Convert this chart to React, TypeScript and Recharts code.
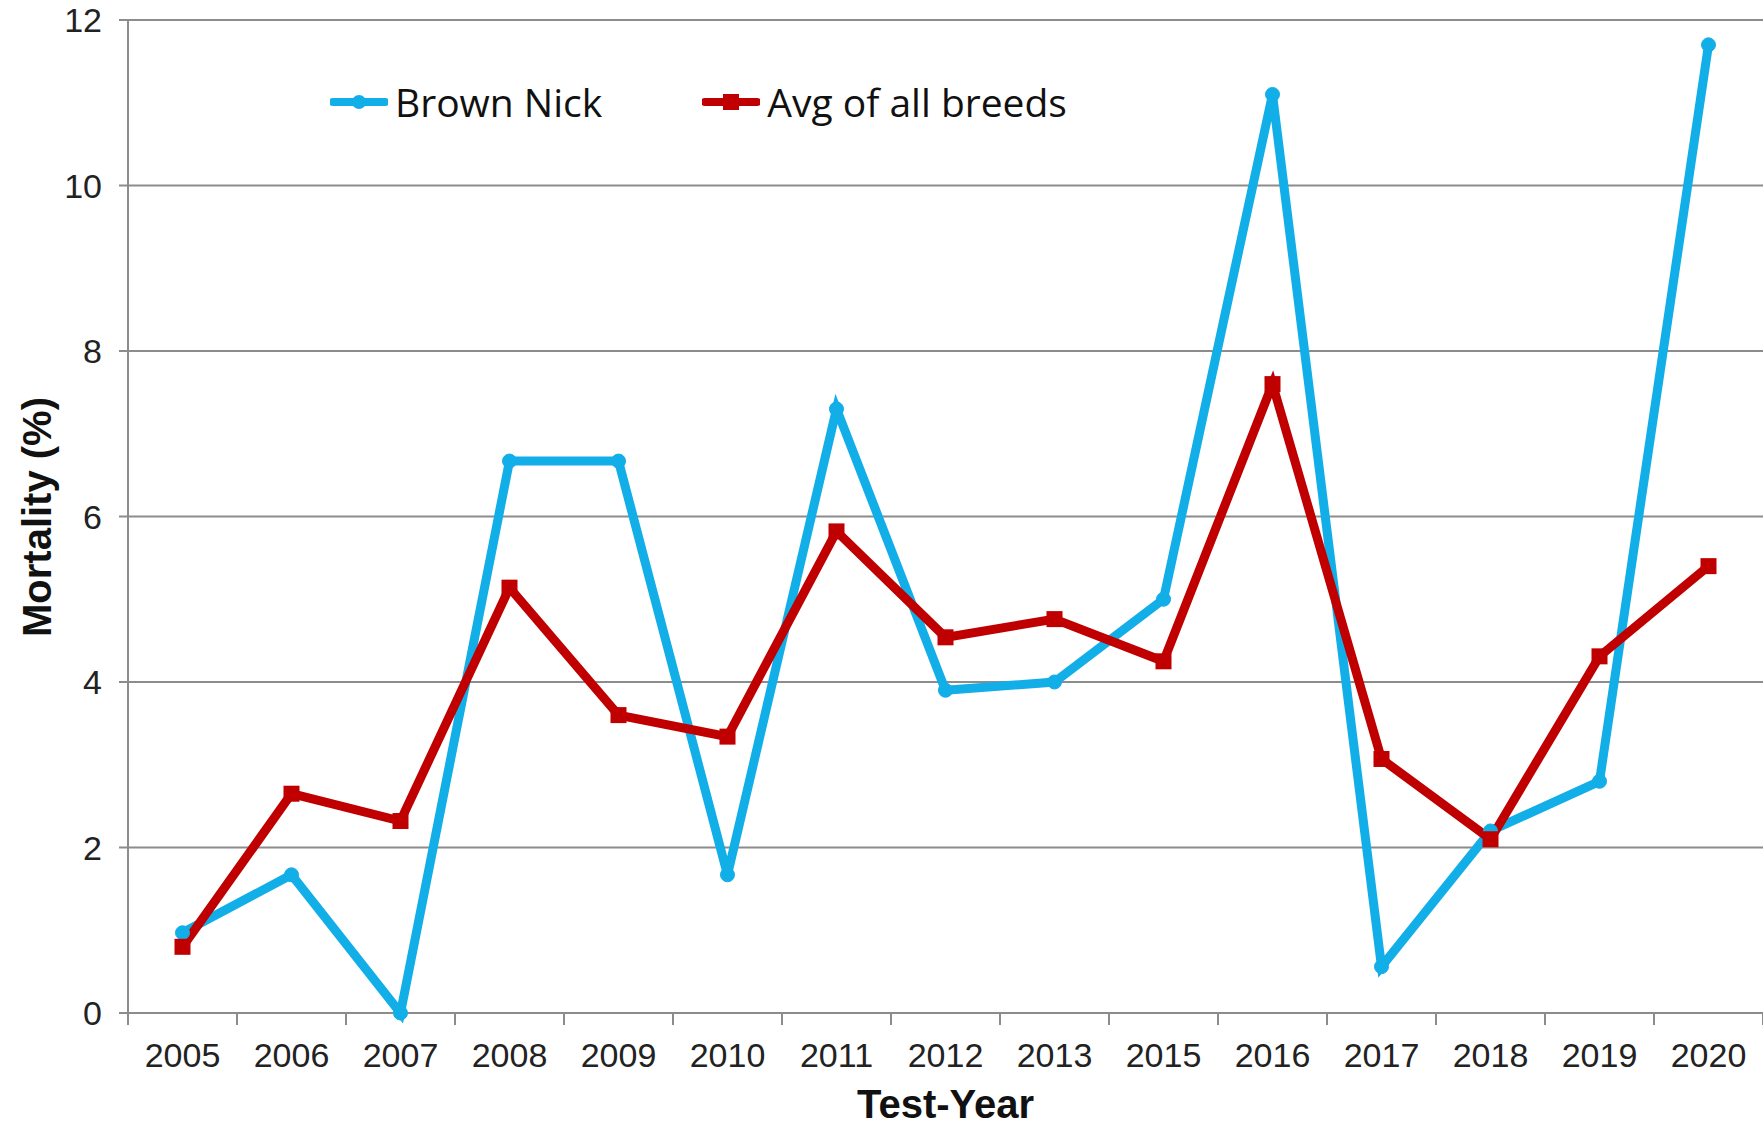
import React from "react";
import {
  LineChart,
  Line,
  XAxis,
  YAxis,
  CartesianGrid,
  Legend,
  Label,
} from "recharts";

const years = [
  "2005", "2006", "2007", "2008", "2009", "2010", "2011", "2012",
  "2013", "2015", "2016", "2017", "2018", "2019", "2020",
];
const brownNick = [0.97, 1.67, 0, 6.67, 6.67, 1.67, 7.3, 3.9, 4.0, 5.0, 11.1, 0.56, 2.2, 2.8, 11.7];
const avgAllBreeds = [0.8, 2.65, 2.32, 5.14, 3.6, 3.34, 5.82, 4.54, 4.76, 4.25, 7.6, 3.07, 2.1, 4.31, 5.4];
const yTicks = [0, 2, 4, 6, 8, 10, 12];
const seriesOrder = ["brownNick", "avg"];

const BLUE = "#12aee8";
const RED = "#c00000";
const GRID = "#8c8c8c";

const data = years.map((year, i) => ({
  idx: i,
  year,
  brownNick: brownNick[i],
  avg: avgAllBreeds[i],
}));

// integer ticks carry the year label, half ticks draw the band-edge tick mark
const xTicks = years.flatMap((_, i) => [i - 0.5, i]).concat(years.length - 0.5);

function YearTick(props: any) {
  const { x, y, payload } = props;
  const v = payload.value as number;
  if (Number.isInteger(v)) {
    return (
      <text
        x={x}
        y={y + 54}
        textAnchor="middle"
        fontSize={34}
        fontFamily="'Liberation Sans', Arial, sans-serif"
        fill="#222"
      >
        {years[v]}
      </text>
    );
  }
  return <line x1={x} x2={x} y1={y} y2={y + 12} stroke={GRID} strokeWidth={2} />;
}

function LegendContent(props: any) {
  const items = [...(props.payload || [])].sort(
    (a: any, b: any) => seriesOrder.indexOf(a.dataKey) - seriesOrder.indexOf(b.dataKey)
  );
  return (
    <div style={{ display: "flex", alignItems: "center", gap: 100 }}>
      {items.map((it: any) => (
        <div key={it.value} style={{ display: "flex", alignItems: "center" }}>
          <svg width={58} height={20} style={{ marginRight: 7 }}>
            <line x1={3} x2={55} y1={10} y2={10} stroke={it.color} strokeWidth={8} strokeLinecap="round" />
            {it.dataKey === "avg" ? (
              <rect x={21} y={2} width={16} height={16} fill={it.color} />
            ) : (
              <circle cx={29} cy={10} r={7} fill={it.color} />
            )}
          </svg>
          <span
            style={{
              fontFamily: "'Open Sans', sans-serif",
              fontSize: 39,
              color: "#111",
              lineHeight: "44px",
            }}
          >
            {it.value}
          </span>
        </div>
      ))}
    </div>
  );
}

export default function App() {
  return (
    <div
      style={{
        position: "absolute",
        left: 0,
        top: 0,
        width: 1763,
        height: 1127,
        background: "#fff",
        overflow: "hidden",
      }}
    >
      <LineChart
        width={1763}
        height={1127}
        data={data}
        margin={{ top: 20, right: 0, left: 0, bottom: 0 }}
      >
        <CartesianGrid vertical={false} stroke={GRID} strokeWidth={2} />
        <XAxis
          dataKey="idx"
          type="number"
          domain={[-0.5, years.length - 0.5]}
          ticks={xTicks}
          interval={0}
          tickLine={false}
          tickSize={0}
          tickMargin={0}
          axisLine={{ stroke: GRID, strokeWidth: 2 }}
          tick={<YearTick />}
          height={114}
        >
          <Label
            content={(p: any) => {
              const vb = p.viewBox;
              return (
                <text
                  x={vb.x + vb.width / 2}
                  y={vb.y + 105}
                  textAnchor="middle"
                  fontSize={40}
                  fontWeight="bold"
                  fontFamily="'Liberation Sans', Arial, sans-serif"
                  fill="#111"
                >
                  Test-Year
                </text>
              );
            }}
          />
        </XAxis>
        <YAxis
          domain={[0, 12]}
          ticks={yTicks}
          interval={0}
          width={128}
          tickSize={9}
          tickMargin={17}
          tickLine={{ stroke: GRID, strokeWidth: 2 }}
          axisLine={{ stroke: GRID, strokeWidth: 2 }}
          tick={{
            fontSize: 34,
            fill: "#222",
            fontFamily: "'Liberation Sans', Arial, sans-serif",
          }}
        >
          <Label
            content={() => (
              <text
                x={51}
                y={517}
                transform="rotate(-90 51 517)"
                textAnchor="middle"
                fontSize={40}
                fontWeight="bold"
                fontFamily="'Liberation Sans', Arial, sans-serif"
                fill="#111"
              >
                Mortality (%)
              </text>
            )}
          />
        </YAxis>
        <Legend
          verticalAlign="middle"
          align="center"
          content={<LegendContent />}
          wrapperStyle={{ position: "absolute", left: 330, top: 80, width: "auto" }}
        />
        <Line
          dataKey="brownNick"
          name="Brown Nick"
          stroke={BLUE}
          strokeWidth={9}
          dot={{ r: 7, fill: BLUE, stroke: BLUE, strokeWidth: 1 }}
          isAnimationActive={false}
        />
        <Line
          dataKey="avg"
          name="Avg of all breeds"
          stroke={RED}
          strokeWidth={9}
          dot={(p: any) => (
            <rect
              key={`sq-${p.index}`}
              x={p.cx - 8}
              y={p.cy - 8}
              width={16}
              height={16}
              fill={RED}
            />
          )}
          isAnimationActive={false}
        />
      </LineChart>
    </div>
  );
}
